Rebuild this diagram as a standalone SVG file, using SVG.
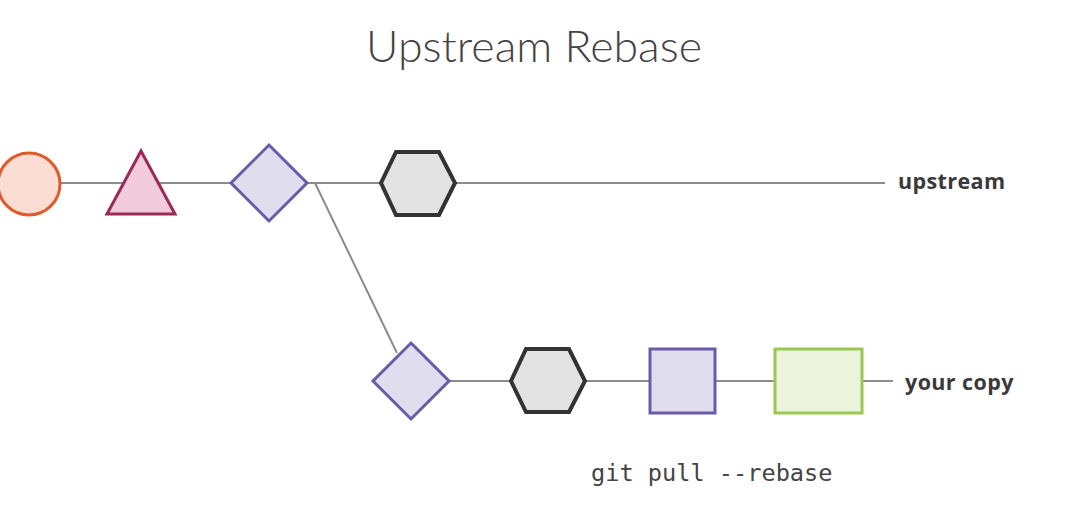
<svg xmlns="http://www.w3.org/2000/svg" width="1066" height="527" viewBox="0 0 1066 527">
<style>
.ln{stroke:#8c8c8c;stroke-width:2;fill:none}
.hex{fill:#e3e3e3;stroke:#333;stroke-width:4;stroke-linejoin:miter}
.purple{fill:#e0ddee;stroke:#6a5ba8;stroke-width:3}
.lbl{font-family:"Open Sans","Liberation Sans",sans-serif;font-weight:700;font-size:21.5px;letter-spacing:0.4px;fill:#3a3a3a}
.title{font-family:Lato,"Liberation Sans",sans-serif;font-weight:300;font-size:44px;fill:#444}
.code{font-family:"DejaVu Sans Mono","Liberation Mono",monospace;font-size:23.6px;fill:#444}
</style>
<rect width="1066" height="527" fill="#fff"/>
<text class="title" x="534" y="62" text-anchor="middle" textLength="336" lengthAdjust="spacingAndGlyphs">Upstream Rebase</text>
<g id="connectors">
<line class="ln" x1="60" y1="183" x2="885" y2="183"/>
<line class="ln" x1="315" y1="183" x2="397" y2="353"/>
<line class="ln" x1="450" y1="381" x2="893" y2="381"/>
</g>
<g id="circle"><circle cx="29" cy="184" r="31" fill="#fbddd3" stroke="#e05a2b" stroke-width="3"/></g>
<g id="triangle"><polygon points="141,151 175,214 107,214" fill="#f2ccdc" stroke="#9b2a55" stroke-width="3"/></g>
<g id="diamond1"><polygon class="purple" points="269,145 307,183 269,221 231,183"/></g>
<g id="hex1"><polygon class="hex" points="396,152 439,152 455,183 439,215 396,215 381,183"/></g>
<g id="diamond2"><polygon class="purple" points="411,343 449,381 411,419 373,381"/></g>
<g id="hex2"><polygon class="hex" points="526,349 569,349 585,381 569,412 526,412 511,381"/></g>
<g id="square"><rect class="purple" x="650" y="349" width="65" height="64"/></g>
<g id="green"><rect x="775" y="349" width="87" height="64" fill="#ebf3dc" stroke="#9bc853" stroke-width="3"/></g>
<text class="lbl" x="898" y="189">upstream</text>
<text class="lbl" x="905" y="390">your copy</text>
<text class="code" x="591" y="481">git pull --rebase</text>
</svg>
